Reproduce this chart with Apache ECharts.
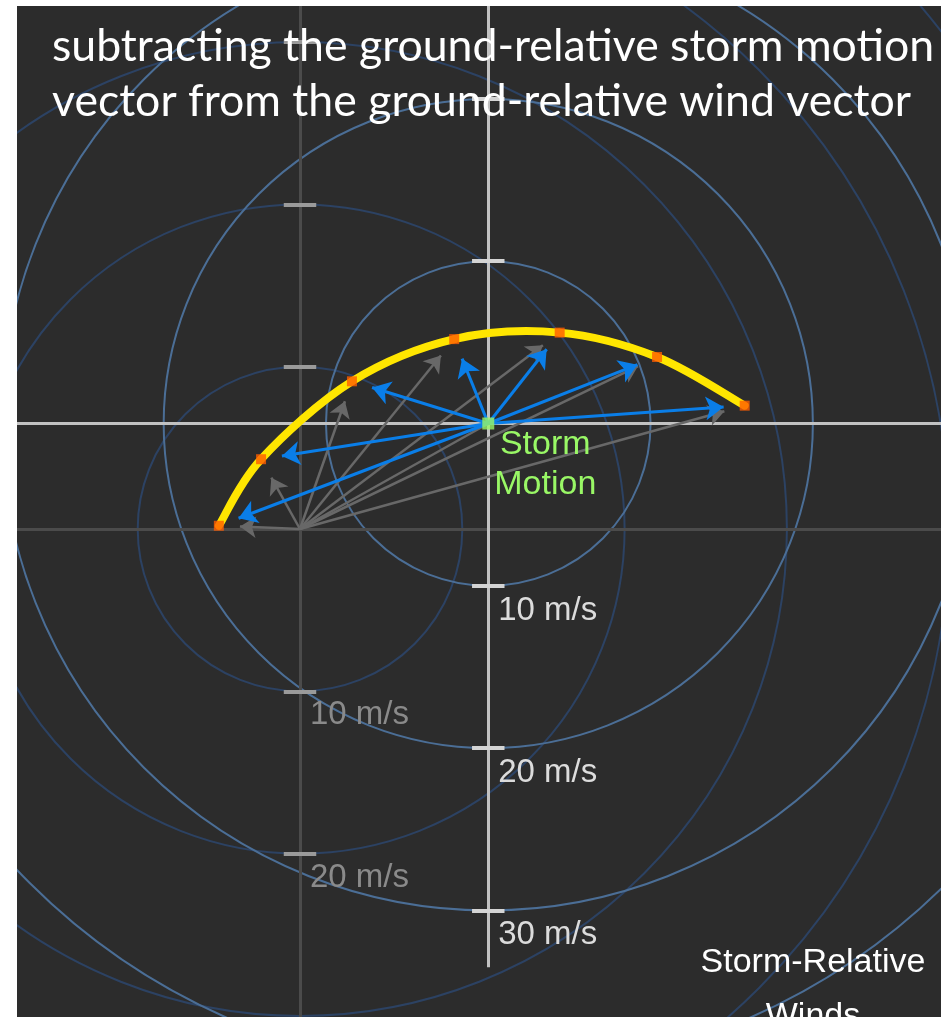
<!DOCTYPE html>
<html>
<head>
<meta charset="utf-8">
<title>Storm-Relative Winds</title>
<script src="https://cdn.jsdelivr.net/npm/echarts@6/dist/echarts.min.js"></script>
<style>
  html, body { margin: 0; padding: 0; background: #ffffff; }
  #chart { width: 949px; height: 1017px; }
</style>
</head>
<body>
<div id="chart"></div>
<script>
// ---- hodograph data (m/s, ground-relative u/v components) ----
const windU = [-5.0, -2.4, 3.2, 9.5, 16.0, 22.0, 27.4];
const windV = [0.2, 4.3, 9.1, 11.7, 12.1, 10.6, 7.6];
const stormMotion = [11.6, 6.5];

// range rings (m/s)
const stormRingSpeeds = [10, 20, 30, 40];
const groundRingSpeeds = [10, 20, 30, 40, 50, 60];

// tick marks along the vertical axes (m/s)
const stormTickSpeeds = [20, 10, -10, -20, -30];
const groundTickSpeeds = [30, 20, 10, -10, -20];

// labelled ticks
const stormLabelSpeeds = [-10, -20, -30];
const stormLabels = ['10 m/s', '20 m/s', '30 m/s'];
const groundLabelSpeeds = [-10, -20];
const groundLabels = ['10 m/s', '20 m/s'];

const titleLines = [
  'subtracting the ground-relative storm motion',
  'vector from the ground-relative wind vector'
];
const panelLines = ['Storm-Relative', 'Winds'];
const stormMotionLines = ['Storm', 'Motion'];

// ---- layout ----
const PLOT = { left: 17, top: 6, right: 941, bottom: 1017 };
const ORIGIN_PX = [300, 529];      // ground-relative origin on screen
const PX_PER_MS = 16.23;
const X_MIN = (PLOT.left - ORIGIN_PX[0]) / PX_PER_MS;
const X_MAX = (PLOT.right - ORIGIN_PX[0]) / PX_PER_MS;
const Y_MAX = (ORIGIN_PX[1] - PLOT.top) / PX_PER_MS;
const Y_MIN = (ORIGIN_PX[1] - PLOT.bottom) / PX_PER_MS;
const STORM_AXIS_DEPTH = 33.5;     // how far the storm-relative v axis runs below its origin
const TICK_HALF = 1.0;             // half tick length, m/s
const ARROW_GAP = 1.3;             // arrows stop short of the hodograph, m/s

const C = {
  bg: '#2c2c2c',
  stormRing: '#4b6e96',
  groundRing: '#2c4263',
  stormAxis: '#c2c2c2',
  groundAxis: '#4b4b4b',
  stormTick: '#d4d4d4',
  groundTick: '#9a9a9a',
  stormLabel: '#dcdcdc',
  groundLabel: '#8a8a8a',
  blue: '#0a7ee8',
  gray: '#686868',
  yellow: '#ffe600',
  orange: '#ff5c00',
  green: '#99f766',
  white: '#ffffff'
};
const PIXEL_FONT = "'Liberation Sans', Arial, sans-serif";
const TITLE_FONT = "Lato, 'Open Sans', sans-serif";

const hodo = windU.map((u, i) => [u, windV[i]]);

function shortened(from, to, gap) {
  const dx = to[0] - from[0], dy = to[1] - from[1];
  const len = Math.hypot(dx, dy);
  const k = (len - gap) / len;
  return [from[0] + dx * k, from[1] + dy * k];
}

const groundArrows = hodo.map(p => ({ coords: [[0, 0], shortened([0, 0], p, ARROW_GAP)] }));
const stormArrows = hodo.map(p => ({ coords: [stormMotion.slice(), shortened(stormMotion, p, ARROW_GAP)] }));

const sm = stormMotion;
const stormAxes = [
  { coords: [[X_MIN, sm[1]], [X_MAX, sm[1]]] },
  { coords: [[sm[0], Y_MAX], [sm[0], sm[1] - STORM_AXIS_DEPTH]] }
];
const groundAxes = [
  { coords: [[X_MIN, 0], [X_MAX, 0]] },
  { coords: [[0, Y_MAX], [0, Y_MIN]] }
];
const stormTicks = stormTickSpeeds.map(v => ({ coords: [[sm[0] - TICK_HALF, sm[1] + v], [sm[0] + TICK_HALF, sm[1] + v]] }));
const groundTicks = groundTickSpeeds.map(v => ({ coords: [[-TICK_HALF, v], [TICK_HALF, v]] }));

function ringSeries(center, speeds, color, z) {
  return {
    type: 'custom', silent: true, clip: true, z: z,
    data: speeds.map(r => [center[0], center[1], r]),
    renderItem: function (params, api) {
      const c = api.coord([api.value(0), api.value(1)]);
      const r = api.size([api.value(2), 0])[0];
      return {
        type: 'circle',
        shape: { cx: c[0], cy: c[1], r: r },
        style: { fill: 'none', stroke: color, lineWidth: 2 }
      };
    }
  };
}

function segSeries(data, color, width, z, arrowSize) {
  return {
    type: 'lines', coordinateSystem: 'cartesian2d', silent: true, z: z,
    symbol: arrowSize ? ['none', 'arrow'] : 'none',
    symbolSize: arrowSize || 0,
    lineStyle: { color: color, width: width, opacity: 1, curveness: 0 },
    data: data
  };
}

function labelSeries(center, speeds, texts, color, dx, dy, z) {
  return {
    type: 'custom', silent: true, z: z,
    data: speeds.map(v => [center[0], center[1] + v]),
    renderItem: function (params, api) {
      const p = api.coord([api.value(0), api.value(1)]);
      return {
        type: 'text', x: p[0] + dx, y: p[1] + dy,
        style: {
          text: texts[params.dataIndex], fill: color,
          fontSize: 33, fontFamily: PIXEL_FONT,
          align: 'right', verticalAlign: 'middle'
        }
      };
    }
  };
}

// Smooth hodograph trace: Catmull-Rom spline through the wind points,
// drawn as cubic Bezier pieces in screen space.
const hodographTrace = {
  type: 'custom', silent: true, z: 9,
  data: [0],
  renderItem: function (params, api) {
    const p = hodo.map(d => api.coord(d));
    const n = p.length;
    const children = [];
    for (let i = 0; i < n - 1; i++) {
      const p0 = p[Math.max(i - 1, 0)], p1 = p[i], p2 = p[i + 1], p3 = p[Math.min(i + 2, n - 1)];
      children.push({
        type: 'bezierCurve',
        shape: {
          x1: p1[0], y1: p1[1], x2: p2[0], y2: p2[1],
          cpx1: p1[0] + (p2[0] - p0[0]) / 6, cpy1: p1[1] + (p2[1] - p0[1]) / 6,
          cpx2: p2[0] - (p3[0] - p1[0]) / 6, cpy2: p2[1] - (p3[1] - p1[1]) / 6
        },
        style: { fill: 'none', stroke: C.yellow, lineWidth: 8, lineCap: 'round' }
      });
    }
    return { type: 'group', children: children };
  }
};

const chart = echarts.init(document.getElementById('chart'), null, { renderer: 'canvas' });
chart.setOption({
  animation: false,
  backgroundColor: '#ffffff',
  grid: {
    left: PLOT.left, top: PLOT.top,
    width: PLOT.right - PLOT.left, height: PLOT.bottom - PLOT.top,
    show: true, backgroundColor: C.bg, borderWidth: 0
  },
  xAxis: { type: 'value', min: X_MIN, max: X_MAX, show: false },
  yAxis: { type: 'value', min: Y_MIN, max: Y_MAX, show: false },
  series: [
    ringSeries([0, 0], groundRingSpeeds, C.groundRing, 1),
    ringSeries(stormMotion, stormRingSpeeds, C.stormRing, 2),
    segSeries(groundAxes, C.groundAxis, 3, 3),
    segSeries(groundTicks, C.groundTick, 4, 4),
    segSeries(stormAxes, C.stormAxis, 3, 5),
    segSeries(stormTicks, C.stormTick, 4, 6),
    segSeries([{ coords: [[0, 0], stormMotion.slice()] }], C.gray, 2.5, 7),
    segSeries(groundArrows, C.gray, 2.5, 7, 16),
    segSeries(stormArrows, C.blue, 3, 8, 18),
    hodographTrace,
    {
      type: 'scatter', data: hodo, symbol: 'rect', symbolSize: 10, silent: true, z: 10,
      itemStyle: { color: C.orange }
    },
    {
      type: 'scatter', data: [stormMotion], symbol: 'rect', symbolSize: 12, silent: true, z: 11,
      itemStyle: { color: C.green }
    },
    {
      type: 'custom', silent: true, z: 12,
      data: [stormMotion],
      renderItem: function (params, api) {
        const p = api.coord([api.value(0), api.value(1)]);
        return {
          type: 'group',
          children: stormMotionLines.map((t, i) => ({
            type: 'text', x: p[0] + 57, y: p[1] + 21 + i * 40,
            style: { text: t, fill: C.green, fontSize: 34, fontFamily: PIXEL_FONT, align: 'center', verticalAlign: 'middle' }
          }))
        };
      }
    },
    labelSeries(stormMotion, stormLabelSpeeds, stormLabels, C.stormLabel, 109, 25, 12),
    labelSeries([0, 0], groundLabelSpeeds, groundLabels, C.groundLabel, 109, 24, 12)
  ],
  graphic: [
    ...titleLines.map((t, i) => ({
      type: 'text', x: 52, y: 47 + i * 55, z: 100,
      style: { text: t, fill: C.white, fontSize: 44.6, fontFamily: TITLE_FONT, align: 'left', verticalAlign: 'middle' }
    })),
    ...panelLines.map((t, i) => ({
      type: 'text', x: 813, y: 963 + i * 54, z: 100,
      style: { text: t, fill: C.white, fontSize: 34, fontFamily: PIXEL_FONT, align: 'center', verticalAlign: 'middle' }
    }))
  ]
});
</script>
</body>
</html>
